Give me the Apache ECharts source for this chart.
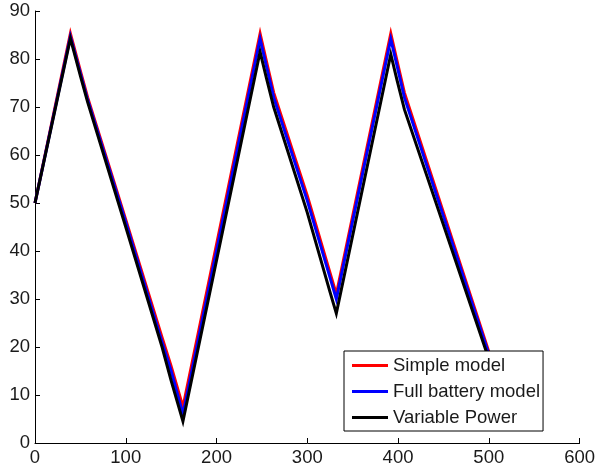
<!DOCTYPE html>
<html>
<head>
<meta charset="utf-8">
<script src="https://cdn.jsdelivr.net/npm/echarts@6/dist/echarts.min.js"></script>
<style>
  html, body { margin: 0; padding: 0; background: #fff; }
  #chart { width: 598px; height: 467px; }
</style>
</head>
<body>
<div id="chart"></div>
<script>
// State-of-charge traces over time for three battery models
const seriesNames = ['Simple model', 'Full battery model', 'Variable Power'];

const simpleModel = [
  [0, 50], [39, 85.3], [50, 77.5], [58, 72], [100, 46.5], [140, 22], [150, 16], [163, 7.5],
  [248, 85.3], [255, 79.5], [263, 73], [300, 51.5], [325, 35.5], [332, 31],
  [392, 85.3], [399, 79.5], [407, 73], [500, 19]
];

const fullBatteryModel = [
  [0, 50], [39, 84.7], [50, 77], [58, 71.5], [100, 46], [140, 21], [150, 15], [163, 6],
  [248, 84.2], [255, 78.5], [263, 72], [300, 50.5], [325, 34.5], [332, 30],
  [392, 84.2], [399, 78.5], [407, 72], [500, 18.5]
];

const variablePower = [
  [0, 50], [39, 84.3], [50, 76.5], [58, 71], [100, 45], [140, 20], [150, 13], [163, 4.5],
  [248, 81.5], [255, 76], [263, 70], [300, 48], [325, 31.5], [332, 27],
  [392, 81], [399, 75.5], [407, 69.5], [500, 17.5]
];

const xTicks = { min: 0, max: 600, interval: 100 };
const yTicks = { min: 0, max: 90, interval: 10 };

const colors = ['#ff0000', '#0000ff', '#000000'];
const font = '"Liberation Sans", Arial, Helvetica, sans-serif';

const chart = echarts.init(document.getElementById('chart'), null, { renderer: 'canvas' });

const axisCommon = {
  type: 'value',
  axisLine: { show: true, onZero: false, lineStyle: { color: '#000', width: 1 } },
  axisTick: { show: true, inside: true, length: 5, lineStyle: { color: '#000', width: 1 } },
  splitLine: { show: false },
  axisLabel: { color: '#1a1a1a', fontSize: 18.5, fontFamily: font }
};

function line(name, data, color) {
  return {
    name: name,
    type: 'line',
    data: data,
    symbol: 'none',
    clip: false,
    animation: false,
    lineStyle: { color: color, width: 3, join: 'miter', miterLimit: 10 },
    itemStyle: { color: color }
  };
}

chart.setOption({
  animation: false,
  backgroundColor: '#fff',
  grid: { left: 35, right: 15, top: 11, bottom: 24, containLabel: false },
  xAxis: Object.assign({}, axisCommon, {
    min: xTicks.min, max: xTicks.max, interval: xTicks.interval,
    axisLabel: Object.assign({}, axisCommon.axisLabel, { margin: 5 })
  }),
  yAxis: Object.assign({}, axisCommon, {
    min: yTicks.min, max: yTicks.max, interval: yTicks.interval,
    axisLabel: Object.assign({}, axisCommon.axisLabel, { margin: 5 })
  }),
  legend: {
    orient: 'vertical',
    left: 344,
    top: 351,
    data: seriesNames,
    icon: 'rect',
    itemWidth: 36,
    itemHeight: 3,
    itemGap: 7,
    padding: [5, 3, 4, 8],
    borderColor: '#000',
    borderWidth: 1,
    backgroundColor: '#fff',
    textStyle: { color: '#1a1a1a', fontSize: 18.5, fontFamily: font }
  },
  series: [
    line(seriesNames[0], simpleModel, colors[0]),
    line(seriesNames[1], fullBatteryModel, colors[1]),
    line(seriesNames[2], variablePower, colors[2])
  ]
});
</script>
</body>
</html>
